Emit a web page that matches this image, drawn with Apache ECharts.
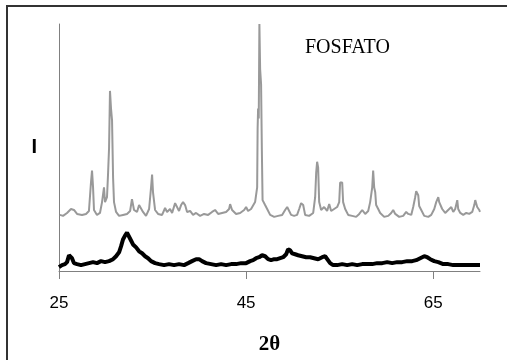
<!DOCTYPE html>
<html>
<head>
<meta charset="utf-8">
<script src="https://cdn.jsdelivr.net/npm/echarts@6/dist/echarts.min.js"></script>
<style>html,body{margin:0;padding:0;background:#fff}#c{width:507px;height:360px}</style>
</head>
<body>
<div id="c"></div>
<script>
// X tick labels
var xTicks = [25, 45, 65];

// Grey trace (upper pattern): 2θ and intensity
var greyTheta = [25.1,25.43,25.86,26.28,26.6,26.93,27.46,27.89,28.2,28.42,28.53,28.64,28.74,29.06,29.38,29.6,29.81,29.92,30.13,30.24,30.35,30.45,30.56,30.67,30.78,30.88,31.1,31.42,31.84,32.27,32.6,32.8,33.02,33.34,33.56,33.77,33.98,34.3,34.63,34.84,34.95,35.05,35.27,35.59,36.02,36.34,36.55,36.87,37.09,37.41,37.62,37.83,38.05,38.26,38.48,38.69,39.01,39.33,39.65,40.08,40.51,40.94,41.36,41.68,42.01,42.43,42.86,43.18,43.29,43.5,43.93,44.36,44.79,45.0,45.21,45.53,45.96,46.18,46.23,46.28,46.35,46.42,46.5,46.6,46.68,46.76,47.03,47.25,47.57,48.0,48.42,48.85,49.17,49.39,49.6,49.81,50.13,50.45,50.67,50.88,51.1,51.31,51.74,52.17,52.38,52.49,52.59,52.7,52.81,53.02,53.34,53.66,53.88,54.09,54.41,54.73,54.95,55.05,55.16,55.27,55.37,55.59,55.91,56.34,56.76,57.09,57.41,57.73,58.05,58.26,58.48,58.58,58.69,58.8,58.9,59.12,59.33,59.76,60.19,60.51,60.72,60.94,61.36,61.79,62.11,62.33,62.65,62.86,63.07,63.18,63.4,63.5,63.72,64.04,64.47,64.79,65.11,65.32,65.54,65.64,65.75,65.96,66.28,66.6,66.93,67.14,67.35,67.57,67.67,67.89,68.21,68.53,68.85,69.17,69.39,69.49,69.6,69.7,69.92,70.0];
var greyI = [57,56,59,63,62,58,57,58,61,90,102,85,62,57,59,70,85,70,75,98,125,183,165,153,95,70,60,56,57,58,61,73,62,60,67,66,60,56,63,85,98,80,62,58,57,64,60,63,59,69,70,61,67,70,67,60,61,57,59,56,58,57,60,62,58,59,60,63,68,62,58,59,62,65,61,63,70,85,145,165,155,251,205,190,125,72,67,63,57,55,56,57,62,65,64,57,56,57,63,69,67,57,56,59,75,100,111,105,70,62,65,61,68,61,63,65,70,90,92,90,70,63,57,56,55,58,62,58,61,70,85,102,85,80,67,63,59,55,56,59,62,58,55,56,60,58,57,65,75,81,77,66,62,56,55,57,63,70,75,70,72,63,59,62,65,60,63,72,63,59,57,59,58,60,67,72,71,65,62,60];

// Black trace (lower pattern): 2θ and intensity
var blackTheta = [25.0,25.32,25.64,25.86,26.07,26.18,26.39,26.6,26.93,27.35,27.78,28.21,28.64,29.06,29.49,29.92,30.35,30.78,31.1,31.42,31.63,31.84,32.06,32.27,32.48,32.7,32.91,33.24,33.56,33.88,34.2,34.52,34.84,35.27,35.7,36.23,36.76,37.3,37.83,38.37,38.8,39.22,39.65,39.97,40.29,40.72,41.26,41.79,42.33,42.86,43.4,43.93,44.47,45.0,45.43,45.75,46.07,46.39,46.71,47.03,47.35,47.67,48.0,48.32,48.64,48.96,49.28,49.49,49.71,49.92,50.24,50.56,50.99,51.42,51.84,52.27,52.7,53.13,53.45,53.66,53.98,54.3,54.73,55.27,55.8,56.34,56.87,57.41,57.94,58.48,59.01,59.55,60.08,60.61,61.15,61.68,62.22,62.75,63.18,63.61,64.04,64.36,64.68,65.11,65.54,66.07,66.6,67.14,67.67,68.21,68.74,69.28,69.81,70.0];
var blackI = [4,6,7,9,16,18,13,8,7,6,7,8,9,8,10,9,10,12,15,19,25,32,36,39,37,31,27,24,20,18,15,13,10,8,7,6,7,6,7,6,8,10,12,12,10,8,7,6,7,6,7,7,8,8,10,11,13,14,16,15,12,11,12,12,13,14,17,22,21,18,17,16,15,14,14,13,12,14,15,13,8,6,6,7,6,7,6,7,7,7,8,8,9,8,9,9,10,10,11,13,15,14,12,10,9,7,7,6,6,6,6,6,6,6];

function zip(a, b) { return a.map(function (v, i) { return [v, b[i]]; }); }

var chart = echarts.init(document.getElementById('c'), null, {renderer: 'canvas'});
chart.setOption({
  animation: false,
  backgroundColor: '#fff',
  grid: {left: 59, right: 27, top: 24, bottom: 85, containLabel: false},
  xAxis: {
    type: 'value', min: 25, max: 70,
    name: '2θ', nameLocation: 'middle', nameGap: 63,
    nameTextStyle: {fontFamily: 'Liberation Serif', fontWeight: 'bold', fontSize: 21, color: '#000'},
    axisLine: {show: true, lineStyle: {color: '#808080', width: 1}},
    axisTick: {show: false},
    axisLabel: {show: true, margin: 24, fontFamily: 'Liberation Sans', fontSize: 17, color: '#000', customValues: xTicks},
    splitLine: {show: false}
  },
  yAxis: {
    type: 'value', min: 0, max: 251,
    name: 'I', nameLocation: 'middle', nameRotate: 0, nameGap: 22,
    nameTextStyle: {fontFamily: 'Liberation Sans', fontWeight: 'bold', fontSize: 20, color: '#000'},
    axisLine: {show: true, lineStyle: {color: '#808080', width: 1}},
    axisTick: {show: false},
    axisLabel: {show: false},
    splitLine: {show: false}
  },
  series: [
    {type: 'line', data: zip(greyTheta, greyI), showSymbol: false, symbol: 'none',
     lineStyle: {color: '#999999', width: 2}, clip: true, z: 2},
    {type: 'line', data: zip(blackTheta, blackI), showSymbol: false, symbol: 'none',
     lineStyle: {color: '#000000', width: 4}, clip: true, z: 3},
    {
      // x-axis tick marks at the labelled values, placed through the axis scale
      type: 'custom', silent: true, clip: false, z: 4,
      data: xTicks.map(function (t) { return [t, 0]; }),
      renderItem: function (params, api) {
        var p = api.coord([api.value(0), 0]);
        var x = Math.round(p[0]) + 0.5;
        return {type: 'line', shape: {x1: x, y1: p[1], x2: x, y2: p[1] + 8},
                style: {stroke: '#808080', lineWidth: 1}};
      }
    }
  ],
  graphic: [
    {type: 'rect', shape: {x: 7, y: 6, width: 510, height: 370}, style: {fill: 'none', stroke: '#333', lineWidth: 2}, silent: true},
    {type: 'text', x: 305, y: 38, style: {text: 'FOSFATO', font: '20px "Liberation Serif"', fill: '#000', textVerticalAlign: 'top'}}
  ]
});
</script>
</body>
</html>
